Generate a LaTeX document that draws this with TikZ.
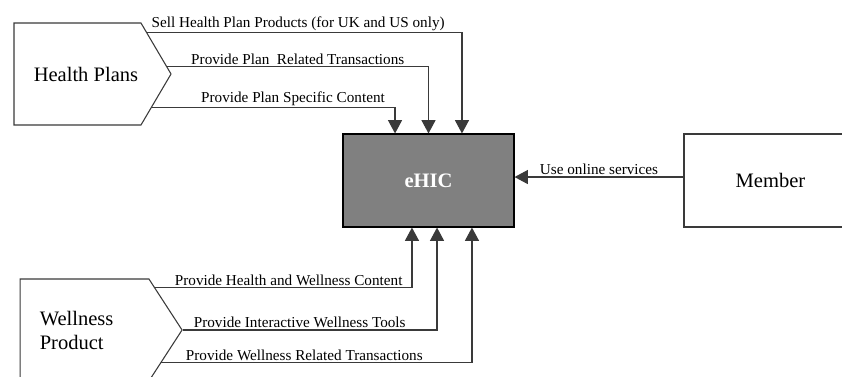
\documentclass[tikz,border=0pt]{standalone}
\usepackage{fontspec}
\setmainfont{Liberation Serif}
\newfontfamily\diagserif{Liberation Serif}
\usepackage{tikz}
\usetikzlibrary{arrows.meta,positioning,calc,shapes.symbols}
\definecolor{sysgray}{HTML}{808080}
\definecolor{edge}{HTML}{3A3A3A}
\tikzset{
  actor/.style={signal, signal to=east, draw=edge, line width=0.8pt, fill=white,
                inner sep=0pt, minimum height=76.5pt},
  bigtxt/.style={align=left, inner sep=0pt, font=\diagserif\fontsize{15.4}{18}\selectfont},
  sysbox/.style={rectangle, draw=black, line width=0.8pt, fill=sysgray, text=white,
                 font=\diagserif\fontsize{15.4}{18}\selectfont\bfseries,
                 minimum width=128.25pt, minimum height=69.75pt},
  extbox/.style={rectangle, draw=edge, line width=0.8pt, fill=white,
                 font=\diagserif\fontsize{15.4}{18}\selectfont,
                 minimum width=129.75pt, minimum height=69.75pt},
  arr/.style={-{Triangle[length=10pt,width=10.5pt]}, line width=0.9pt, draw=edge},
  lbl/.style={above, inner sep=1pt, font=\diagserif\fontsize{11.4}{13}\selectfont},
}
\begin{document}
\begin{tikzpicture}[x=0.75pt, y=0.75pt]
    \useasboundingbox (0,0) rectangle (842,376);
    \clip (0,0) rectangle (842,376);
    % actors and system
    \node[actor, signal pointer angle=119, minimum width=117.75pt] (hp) at (77.5,302) {};
    \node[bigtxt, right=15pt of hp.west] (hptxt) {Health Plans};
    \node[actor, signal pointer angle=114, minimum width=121.5pt] (wp) at (84.5,46) {};
    \node[bigtxt, right=15pt of wp.west] (wptxt) {Wellness\\Product};
    \node[sysbox] (ehic) at (428.5,195.5) {eHIC};
    \node[extbox] (mem) at (770.5,195.5) {Member};
    % flows from health plans
    \draw[arr] (hp.31) -| ([xshift=25.1pt]ehic.north)
      node[lbl, pos=0.24] {Sell Health Plan Products (for UK and US only)};
    \draw[arr] (hp.5) -| (ehic.north)
      node[lbl, pos=0.25] {Provide Plan\ \ Related Transactions};
    \draw[arr] (hp.-24) -| ([xshift=-25.1pt]ehic.north)
      node[lbl, pos=0.29] {Provide Plan Specific Content};
    % flows from wellness product
    \draw[arr] (wp.31) -| ([xshift=-12.4pt]ehic.south)
      node[lbl, pos=0.26] {Provide Health and Wellness Content};
    \draw[arr] (wp.east) -| ([xshift=6.4pt]ehic.south)
      node[lbl, pos=0.23] {Provide Interactive Wellness Tools};
    \draw[arr] (wp.-23) -| ([xshift=32.6pt]ehic.south)
      node[lbl, pos=0.23] {Provide Wellness Related Transactions};
    % member
    \draw[arr] ([yshift=2.6pt]mem.west) -- ([yshift=2.6pt]ehic.east)
      node[lbl, midway] {Use online services};
\end{tikzpicture}
\end{document}
